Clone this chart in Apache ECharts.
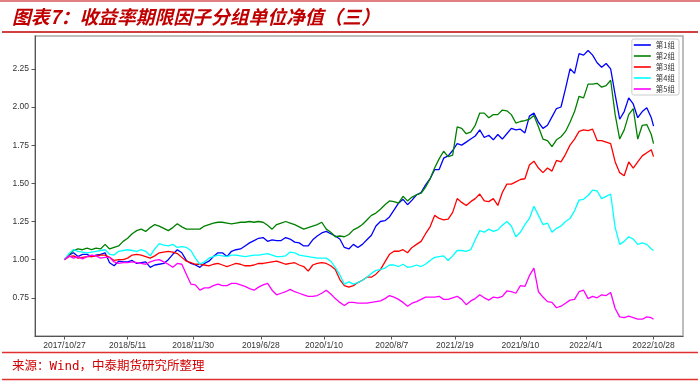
<!DOCTYPE html>
<html><head><meta charset="utf-8">
<script src="https://cdn.jsdelivr.net/npm/echarts@6/dist/echarts.min.js"></script>
<style>html,body{margin:0;padding:0;background:#fff}#c{width:700px;height:382px}</style>
</head><body><div id="c"></div>
<script>
const seriesNames = ['第1组','第2组','第3组','第4组','第5组'];
const seriesColors = ['#0000ff','#008000','#ff0000','#00ffff','#ff00ff'];
const startDate = '2017-10-27';
const endDate = '2022-10-28';
const stepDays = 14;
const tickLabels = ['2017/10/27','2018/5/11','2018/11/30','2019/6/28','2020/1/10','2020/8/7','2021/2/19','2021/9/10','2022/4/1','2022/10/28'];
const yTicks = [0.75,1.00,1.25,1.50,1.75,2.00,2.25];

const group1 = [1.00,1.03,1.045,1.02,1.035,1.035,1.02,1.03,1.035,1.045,
0.98,0.96,0.99,0.985,0.985,0.995,0.975,0.98,0.985,0.95,
0.965,0.97,0.975,1.00,1.035,1.065,1.045,0.995,0.975,0.965,
0.95,0.975,0.99,1.02,1.045,1.045,1.02,1.055,1.065,1.07,
1.09,1.11,1.125,1.14,1.145,1.12,1.13,1.125,1.125,1.145,
1.135,1.115,1.11,1.09,1.09,1.13,1.155,1.175,1.185,1.17,
1.155,1.135,1.08,1.07,1.10,1.08,1.10,1.13,1.16,1.22,
1.25,1.255,1.28,1.325,1.37,1.395,1.36,1.39,1.425,1.44,
1.49,1.53,1.59,1.59,1.665,1.68,1.715,1.76,1.75,1.77,
1.79,1.81,1.85,1.80,1.815,1.785,1.82,1.79,1.825,1.86,
1.85,1.855,1.83,1.94,1.96,1.90,1.86,1.88,1.935,1.99,
2.00,2.12,2.25,2.22,2.35,2.34,2.37,2.34,2.29,2.26,
2.285,2.25,2.08,1.92,1.97,2.06,2.02,1.93,1.97,1.995,
1.93,1.875];
const group2 = [1.00,1.03,1.06,1.07,1.065,1.075,1.065,1.075,1.07,1.10,
1.07,1.08,1.09,1.12,1.14,1.17,1.19,1.20,1.185,1.21,
1.23,1.22,1.205,1.19,1.21,1.235,1.215,1.20,1.20,1.20,
1.20,1.22,1.23,1.24,1.245,1.245,1.24,1.235,1.24,1.245,
1.245,1.25,1.245,1.25,1.245,1.225,1.20,1.23,1.24,1.25,
1.24,1.23,1.215,1.20,1.21,1.22,1.23,1.245,1.20,1.18,
1.15,1.155,1.15,1.165,1.195,1.21,1.23,1.26,1.29,1.305,
1.33,1.36,1.385,1.38,1.37,1.415,1.385,1.41,1.425,1.435,
1.475,1.53,1.60,1.66,1.71,1.675,1.685,1.87,1.86,1.825,
1.835,1.88,1.96,1.96,1.93,1.95,1.95,1.98,1.975,1.95,
1.895,1.905,1.91,1.92,1.945,1.87,1.79,1.78,1.74,1.785,
1.805,1.84,1.90,1.97,2.07,2.06,2.15,2.15,2.155,2.13,
2.14,2.175,1.95,1.79,1.85,1.95,1.99,1.79,1.88,1.885,
1.82,1.76];
const group3 = [1.00,1.02,1.025,1.01,1.015,1.02,1.02,1.025,1.03,1.03,
1.015,0.995,1.00,1.00,1.01,1.03,1.035,1.03,1.02,1.01,
1.025,1.045,1.05,1.055,1.05,1.04,1.015,0.99,0.98,0.97,
0.97,0.965,0.96,0.97,0.975,0.965,0.955,0.965,0.975,0.97,
0.96,0.96,0.965,0.975,0.975,0.98,0.985,0.99,0.98,0.97,
0.975,0.98,0.965,0.955,0.925,0.965,0.975,0.98,0.975,0.96,
0.935,0.87,0.83,0.82,0.83,0.85,0.865,0.885,0.885,0.905,
0.935,0.985,1.035,1.055,1.055,1.065,1.045,1.08,1.10,1.12,
1.17,1.215,1.29,1.27,1.26,1.265,1.31,1.40,1.375,1.355,
1.38,1.40,1.43,1.385,1.38,1.40,1.355,1.44,1.495,1.495,
1.51,1.525,1.53,1.62,1.645,1.60,1.57,1.60,1.58,1.65,
1.64,1.69,1.75,1.79,1.84,1.85,1.845,1.855,1.78,1.78,
1.77,1.76,1.64,1.57,1.55,1.64,1.60,1.64,1.68,1.70,
1.72,1.675];
const group4 = [1.00,1.04,1.065,1.055,1.05,1.045,1.05,1.055,1.06,1.065,
1.035,1.03,1.055,1.06,1.065,1.06,1.055,1.065,1.055,1.025,
1.07,1.105,1.095,1.09,1.10,1.08,1.085,1.08,1.06,1.01,
0.97,0.985,1.01,1.02,1.03,1.025,1.02,1.03,1.03,1.025,
1.02,1.025,1.03,1.03,1.035,1.04,1.03,1.02,1.02,1.025,
1.05,1.045,1.03,1.025,1.02,1.015,1.01,1.01,1.01,0.99,
0.95,0.90,0.84,0.855,0.84,0.85,0.865,0.885,0.91,0.93,
0.935,0.945,0.965,0.965,0.955,0.97,0.95,0.955,0.965,0.955,
0.97,0.995,1.015,1.02,1.025,0.995,1.025,1.06,1.06,1.055,
1.065,1.13,1.19,1.18,1.20,1.185,1.195,1.225,1.25,1.22,
1.15,1.18,1.23,1.27,1.35,1.29,1.23,1.24,1.18,1.205,
1.22,1.25,1.27,1.32,1.39,1.395,1.42,1.455,1.45,1.40,
1.415,1.43,1.21,1.10,1.12,1.15,1.135,1.10,1.11,1.10,
1.07,1.06];
const group5 = [1.00,1.025,1.01,1.02,1.005,1.02,1.03,1.025,1.01,1.015,
1.015,0.985,0.975,0.98,0.98,0.985,0.98,0.975,0.97,0.985,
0.995,1.00,0.985,0.97,0.95,0.975,0.97,0.905,0.84,0.835,
0.80,0.815,0.815,0.83,0.84,0.83,0.83,0.845,0.845,0.835,
0.825,0.81,0.80,0.82,0.835,0.845,0.80,0.77,0.78,0.79,
0.805,0.79,0.78,0.77,0.76,0.76,0.765,0.78,0.80,0.775,
0.745,0.72,0.70,0.72,0.72,0.715,0.715,0.715,0.72,0.725,
0.73,0.745,0.765,0.755,0.74,0.72,0.695,0.715,0.725,0.74,
0.755,0.755,0.755,0.76,0.74,0.74,0.75,0.76,0.74,0.705,
0.73,0.745,0.77,0.75,0.735,0.755,0.75,0.76,0.795,0.79,
0.78,0.83,0.825,0.895,0.945,0.79,0.755,0.725,0.72,0.685,
0.695,0.715,0.735,0.74,0.79,0.80,0.745,0.76,0.75,0.77,
0.765,0.785,0.68,0.625,0.62,0.63,0.62,0.61,0.61,0.625,
0.62,0.61];

const allGroups = [group1, group2, group3, group4, group5];

function dayOf(s) {
  const p = s.split(/[\/-]/).map(Number);
  const q = startDate.split('-').map(Number);
  const t0 = Date.UTC(q[0], q[1]-1, q[2]);
  return Math.round((Date.UTC(p[0], p[1]-1, p[2]) - t0) / 86400000);
}
const endDay = dayOf(endDate);
const n = group1.length;
const dayIdx = [];
for (let i = 0; i < n; i++) dayIdx.push(i === n-1 ? endDay : i*stepDays);
const tickDays = tickLabels.map(dayOf);

const chart = echarts.init(document.getElementById('c'), null, {renderer:'canvas'});
const red = '#c00000';
chart.setOption({
  animation: false,
  backgroundColor: '#fff',
  grid: {left: 35, right: 17, top: 36, bottom: 46, show: true, borderColor: '#a8a8a8', borderWidth: 1.5, backgroundColor: 'transparent'},
  legend: {
    orient: 'vertical', right: 21, top: 39,
    data: seriesNames,
    icon: 'rect', itemWidth: 17, itemHeight: 1.6, itemGap: 3,
    padding: [2, 4, 2, 2],
    backgroundColor: '#fff', borderColor: '#cccccc', borderWidth: 1, borderRadius: 2,
    textStyle: {fontSize: 7.5, lineHeight: 8, color: '#333', fontFamily: '"Noto Sans CJK SC"'}
  },
  xAxis: {
    type: 'value', min: -0.05*endDay, max: 1.05*endDay,
    splitLine: {show: false},
    axisLine: {show: true, onZero: false, lineStyle: {color: '#555', width: 1}},
    axisTick: {show: true, length: 3.5, lineStyle: {color: '#555'}, customValues: tickDays},
    axisLabel: {
      customValues: tickDays, margin: 5, fontSize: 8.5, color: '#333', fontFamily: 'Liberation Sans',
      formatter: function (v) {
        let best = 0, bd = 1e9;
        tickDays.forEach((d, k) => { if (Math.abs(d - v) < bd) { bd = Math.abs(d - v); best = k; } });
        return tickLabels[best];
      }
    }
  },
  yAxis: {
    type: 'value', min: 0.5, max: 2.465,
    splitLine: {show: false},
    axisLine: {show: true, onZero: false, lineStyle: {color: '#555', width: 1}},
    axisTick: {show: true, length: 3.5, lineStyle: {color: '#555'}, customValues: yTicks},
    axisLabel: {customValues: yTicks, margin: 6, fontSize: 8.5, color: '#333', fontFamily: 'Liberation Sans',
      formatter: v => v.toFixed(2)}
  },
  series: allGroups.map((arr, k) => ({
    name: seriesNames[k], type: 'line', showSymbol: false, symbol: 'none',
    lineStyle: {width: 1.3, color: seriesColors[k]}, itemStyle: {color: seriesColors[k]},
    data: arr.map((v, i) => [dayIdx[i], v])
  })),
  graphic: [
    {type: 'line', shape: {x1: 0, y1: 1, x2: 700, y2: 1}, style: {stroke: red, lineWidth: 1}},
    {type: 'text', left: 12, top: 7.5, style: {text: '图表7：收益率期限因子分组单位净值（三）', font: 'italic bold 18.8px "Noto Sans CJK SC"', fill: red}},
    {type: 'line', shape: {x1: 2, y1: 32, x2: 698, y2: 32}, style: {stroke: red, lineWidth: 1.5}},
    {type: 'line', shape: {x1: 2, y1: 352.5, x2: 698, y2: 352.5}, style: {stroke: '#e03030', lineWidth: 1.5}},
    {type: 'text', left: 12, top: 360, style: {text: '来源：Wind，中泰期货研究所整理', font: '12.5px "DejaVu Sans Mono", "Noto Sans CJK SC"', fill: '#d00000'}},
    {type: 'line', shape: {x1: 2, y1: 379.5, x2: 698, y2: 379.5}, style: {stroke: '#e03030', lineWidth: 1.5}}
  ]
});
</script></body></html>
